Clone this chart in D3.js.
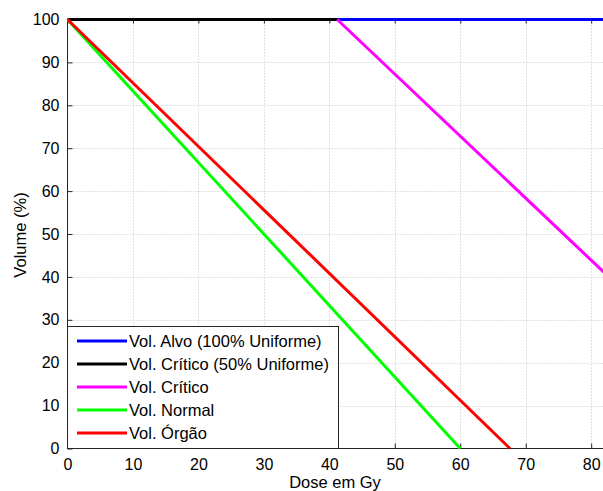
<!DOCTYPE html>
<html>
<head>
<meta charset="utf-8">
<script src="https://cdn.jsdelivr.net/npm/d3@7"></script>
<style>
  html, body { margin: 0; padding: 0; background: #fff; }
  svg { display: block; }
  text { font-family: "Liberation Sans", Arial, sans-serif; fill: #000; }
</style>
</head>
<body>
<svg id="chart" width="603" height="491"></svg>
<script>
// Dose-volume curves (dose in Gy, volume in %)
const seriesNames = [
  "Vol. Alvo (100% Uniforme)",
  "Vol. Crítico (50% Uniforme)",
  "Vol. Crítico",
  "Vol. Normal",
  "Vol. Órgão"
];
const seriesColors = ["#0000ff", "#000000", "#ff00ff", "#00ff00", "#ff0000"];
const alvoDose = [0, 82];
const alvoVol = [100, 100];
const criticoUnifDose = [0, 41.2];
const criticoUnifVol = [100, 100];
const criticoDose = [41.2, 82];
const criticoVol = [100, 41];
const normalDose = [0, 60];
const normalVol = [100, 0];
const orgaoDose = [0, 67.6];
const orgaoVol = [100, 0];
const xTicks = [0, 10, 20, 30, 40, 50, 60, 70, 80];
const yTicks = [0, 10, 20, 30, 40, 50, 60, 70, 80, 90, 100];

const seriesDose = [alvoDose, criticoUnifDose, criticoDose, normalDose, orgaoDose];
const seriesVol = [alvoVol, criticoUnifVol, criticoVol, normalVol, orgaoVol];

const svg = d3.select("#chart");
const plotLeft = 67.5, plotTop = 19.5, plotBottom = 448.5;
const pxPerGy = 6.546;
const xMax = 82;

const x = d3.scaleLinear().domain([0, xMax]).range([plotLeft, plotLeft + xMax * pxPerGy]);
const y = d3.scaleLinear().domain([0, 100]).range([plotBottom, plotTop]);

svg.append("defs").append("clipPath").attr("id", "plotClip")
  .append("rect").attr("x", plotLeft).attr("y", plotTop - 4)
  .attr("width", 603 - plotLeft).attr("height", plotBottom - plotTop + 8);

// dotted grid
const grid = svg.append("g").attr("stroke", "#c4c4c4").attr("stroke-width", 1)
  .attr("stroke-dasharray", "1,2");
grid.selectAll("line.gx").data(xTicks.filter(d => d > 0)).join("line")
  .attr("class", "gx")
  .attr("x1", d => Math.round(x(d)) + 0.5).attr("x2", d => Math.round(x(d)) + 0.5)
  .attr("y1", plotTop).attr("y2", plotBottom);
grid.selectAll("line.gy").data(yTicks.filter(d => d > 0 && d < 100)).join("line")
  .attr("class", "gy")
  .attr("x1", plotLeft).attr("x2", 603)
  .attr("y1", d => Math.round(y(d)) + 0.5).attr("y2", d => Math.round(y(d)) + 0.5);

// axes: bottom, left, and box top
const xAxis = d3.axisBottom(x).tickValues(xTicks).tickSize(-5).tickPadding(10)
  .tickFormat(d3.format("d"));
const gx = svg.append("g").attr("transform", `translate(0,${plotBottom})`).call(xAxis);
gx.select(".domain").attr("d", `M${plotLeft},0H603`).attr("stroke", "#262626");

const xTop = d3.axisTop(x).tickValues(xTicks).tickSize(-5).tickFormat("");
const gxt = svg.append("g").attr("transform", `translate(0,${plotTop - 1})`).call(xTop);
gxt.select(".domain").attr("d", `M${plotLeft},0H603`).attr("stroke", "#bdbdbd");

const yAxis = d3.axisLeft(y).tickValues(yTicks).tickSize(-5).tickPadding(8)
  .tickFormat(d3.format("d"));
const gy = svg.append("g").attr("transform", `translate(${plotLeft},0)`).call(yAxis);
gy.select(".domain").attr("d", `M0,${plotTop}V${plotBottom}`).attr("stroke", "#262626");

[gx, gxt, gy].forEach(g => {
  g.selectAll(".tick line").attr("stroke", "#262626");
  g.selectAll(".tick text").attr("font-size", 16).attr("fill", "#000")
    .attr("font-family", "Liberation Sans, Arial, sans-serif");
});
gx.selectAll(".tick text").attr("dy", "0.71em").attr("y", 10);

// series
const line = d3.line().x(d => x(d[0])).y(d => y(d[1]));
svg.append("g").attr("clip-path", "url(#plotClip)")
  .selectAll("path").data(seriesNames).join("path")
  .attr("d", (n, i) => line(d3.zip(seriesDose[i], seriesVol[i])))
  .attr("fill", "none")
  .attr("stroke", (n, i) => seriesColors[i])
  .attr("stroke-width", 3);

// axis titles
svg.append("text").attr("x", 335).attr("y", 488).attr("text-anchor", "middle")
  .attr("font-size", 16.5).text("Dose em Gy");
svg.append("text").attr("transform", "translate(26,235) rotate(-90)")
  .attr("text-anchor", "middle").attr("font-size", 16.5).text("Volume (%)");

// legend
const lg = svg.append("g");
lg.append("rect").attr("x", 67.5).attr("y", 326.5).attr("width", 271).attr("height", 122)
  .attr("fill", "#fff").attr("stroke", "#262626").attr("stroke-width", 1);
const entries = lg.selectAll("g.entry").data(seriesNames).join("g")
  .attr("class", "entry")
  .attr("transform", (d, i) => `translate(0,${341 + i * 23})`);
entries.append("line").attr("x1", 77).attr("x2", 127).attr("y1", 0).attr("y2", 0)
  .attr("stroke", (d, i) => seriesColors[i]).attr("stroke-width", 3);
entries.append("text").attr("x", 129).attr("y", 0).attr("dy", "0.36em")
  .attr("font-size", 16.5).text(d => d);
</script>
</body>
</html>
